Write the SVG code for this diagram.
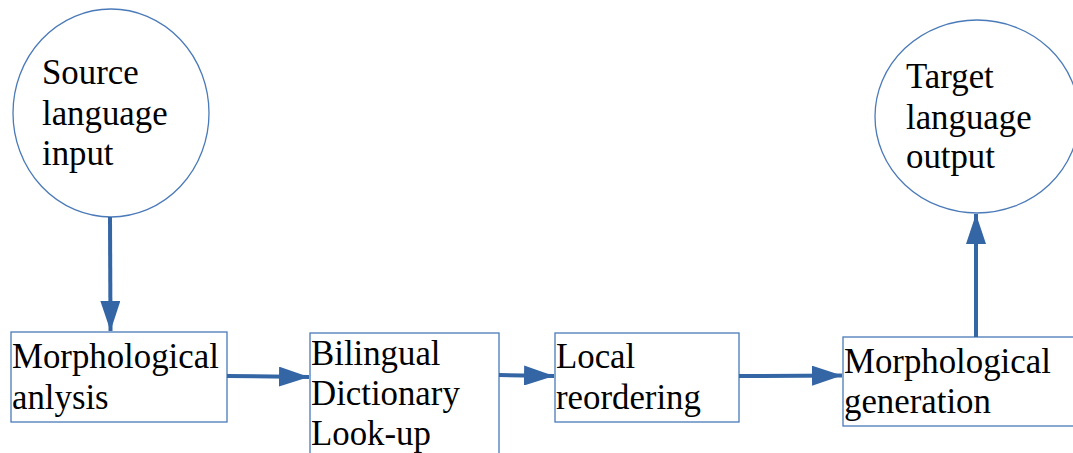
<svg xmlns="http://www.w3.org/2000/svg" width="1073" height="453" viewBox="0 0 1073 453">
<style>
.shape{fill:#ffffff;stroke:#4a7ab8;stroke-width:1.3}
.lbl{font-family:"Liberation Serif","Times New Roman",serif;font-size:34.8px;fill:#000000}
.conn{stroke:#3465a4;stroke-width:4;fill:none}
</style>
<defs>
<marker id="ah" markerWidth="30" markerHeight="20" refX="30" refY="10" orient="auto" markerUnits="userSpaceOnUse">
<path d="M0,0 L30,10 L0,20 Z" fill="#3465a4"/>
</marker>
</defs>
<rect width="1073" height="453" fill="#ffffff"/>
<g id="source">
<ellipse class="shape" cx="111" cy="113" rx="98" ry="104"/>
<text class="lbl" x="42" y="84">Source</text>
<text class="lbl" x="42" y="125">language</text>
<text class="lbl" x="42" y="165">input</text>
</g>
<g id="target">
<ellipse class="shape" cx="977" cy="116.5" rx="102" ry="96.5"/>
<text class="lbl" x="906" y="88">Target</text>
<text class="lbl" x="906" y="129">language</text>
<text class="lbl" x="906" y="168">output</text>
</g>
<g id="analysis">
<rect class="shape" x="11" y="332" width="216" height="90"/>
<text class="lbl" x="12" y="368">Morphological</text>
<text class="lbl" x="12" y="409">anlysis</text>
</g>
<g id="dictionary">
<rect class="shape" x="310" y="333" width="189" height="140"/>
<text class="lbl" x="311" y="365">Bilingual</text>
<text class="lbl" x="311" y="405">Dictionary</text>
<text class="lbl" x="311" y="445">Look-up</text>
</g>
<g id="reordering">
<rect class="shape" x="555" y="333" width="184" height="89"/>
<text class="lbl" x="556" y="368">Local</text>
<text class="lbl" x="556" y="409">reordering</text>
</g>
<g id="generation">
<rect class="shape" x="843" y="337" width="240" height="89"/>
<text class="lbl" x="844" y="373">Morphological</text>
<text class="lbl" x="844" y="413">generation</text>
</g>
<g id="connectors">
<line class="conn" x1="110" y1="217" x2="110.5" y2="331" marker-end="url(#ah)"/>
<line class="conn" x1="227" y1="376" x2="309" y2="377" marker-end="url(#ah)"/>
<line class="conn" x1="499" y1="375" x2="554" y2="376" marker-end="url(#ah)"/>
<line class="conn" x1="739" y1="376" x2="842" y2="375.5" marker-end="url(#ah)"/>
<line class="conn" x1="976" y1="337" x2="976" y2="214" marker-end="url(#ah)"/>
</g>
</svg>
